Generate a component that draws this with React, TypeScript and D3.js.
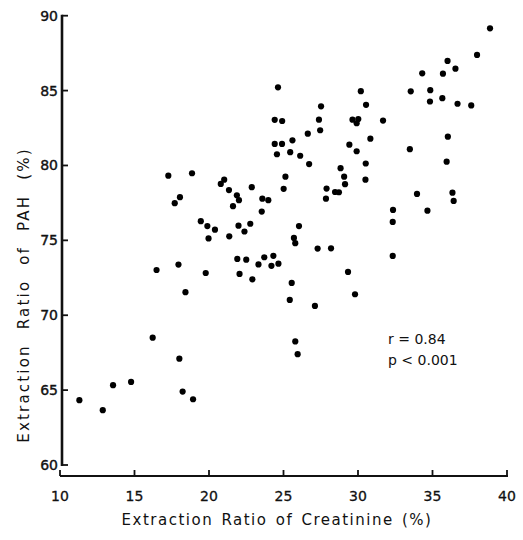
import React from "react";
import * as d3 from "d3";

const creatinine: number[] = [
  38.86, 37.99, 36.01, 36.54, 34.31, 35.70, 34.85, 33.54, 30.19, 24.63,
  35.66, 34.83, 36.68, 37.60, 30.54, 27.52, 24.41, 24.91, 27.38, 29.63,
  30.02, 29.91, 31.68, 27.46, 26.63, 36.03, 30.83, 25.60, 24.41, 24.90,
  29.42, 33.48, 24.56, 25.45, 26.12, 29.91, 26.72, 30.52, 35.95, 28.83,
  17.27, 18.86, 25.13, 29.07, 30.50, 21.02, 20.79, 29.13, 22.87, 27.89,
  25.01, 21.34, 28.46, 28.72, 21.87, 33.96, 36.34, 36.42, 18.05, 17.70,
  22.01, 23.58, 23.98, 27.85, 21.61, 23.54, 32.35, 34.66, 32.33, 19.45,
  19.89, 20.40, 19.97, 21.98, 22.77, 22.38, 21.36, 26.04, 25.70, 25.79,
  27.29, 28.19, 32.33, 16.48, 17.95, 19.78, 21.90, 22.50, 22.05, 22.91,
  23.32, 23.71, 24.32, 24.19, 24.66, 18.42, 25.55, 25.42, 27.11, 29.33,
  29.80, 16.22, 25.79, 25.95, 18.01, 18.23, 18.93, 11.30, 12.87, 13.56,
  14.77,
];

const pah: number[] = [
  89.16, 87.38, 86.98, 86.46, 86.15, 86.13, 85.03, 84.95, 84.96, 85.22,
  84.49, 84.27, 84.12, 84.01, 84.05, 83.95, 83.05, 82.97, 83.06, 83.06,
  83.10, 82.82, 83.00, 82.35, 82.12, 81.92, 81.79, 81.68, 81.44, 81.44,
  81.39, 81.09, 80.75, 80.89, 80.65, 80.95, 80.09, 80.13, 80.25, 79.82,
  79.32, 79.48, 79.25, 79.25, 79.05, 79.05, 78.77, 78.75, 78.55, 78.46,
  78.44, 78.36, 78.23, 78.21, 78.01, 78.10, 78.18, 77.63, 77.88, 77.48,
  77.68, 77.78, 77.68, 77.78, 77.28, 76.92, 77.03, 76.98, 76.23, 76.28,
  75.95, 75.71, 75.13, 75.98, 76.11, 75.59, 75.27, 75.95, 75.16, 74.81,
  74.45, 74.47, 73.96, 73.02, 73.38, 72.82, 73.76, 73.71, 72.76, 72.40,
  73.39, 73.87, 73.97, 73.30, 73.44, 71.54, 72.16, 71.02, 70.62, 72.89,
  71.40, 68.50, 68.25, 67.40, 67.10, 64.90, 64.39, 64.33, 63.66, 65.33,
  65.55,
];

const xTicks: number[] = [10, 15, 20, 25, 30, 35, 40];
const yTicks: number[] = [60, 65, 70, 75, 80, 85, 90];
const xLabel = "Extraction Ratio of Creatinine (%)";
const yLabel = "Extraction Ratio of PAH (%)";
const statLines: string[] = ["r = 0.84", "p < 0.001"];

export default function App() {
  const W = 523;
  const H = 540;
  const x = d3.scaleLinear().domain([10, 40]).range([60, 507]);
  const y = d3.scaleLinear().domain([60, 90]).range([465, 15.7]);
  const axisY = 476;
  const axisX = 62;
  const font = "'DejaVu Sans', sans-serif";
  const points = creatinine.map((c, i) => ({ c, p: pah[i] }));

  return (
    <svg
      width={W}
      height={H}
      style={{ position: "absolute", left: 0, top: 0, background: "#fff" }}
      fontFamily={font}
    >
      <rect x={0} y={0} width={W} height={H} fill="#fff" />
      {/* y axis */}
      <line x1={axisX} x2={axisX} y1={y(90) - 1} y2={y(60) + 1} stroke="#111" strokeWidth={2.6} />
      {yTicks.map((t) => (
        <g key={"y" + t}>
          <line x1={axisX} x2={axisX + 6} y1={y(t)} y2={y(t)} stroke="#111" strokeWidth={1.8} />
          <text
            x={axisX - 4}
            y={y(t) + 5}
            textAnchor="end"
            fontSize={14}
            fill="#111"
            stroke="#111"
            strokeWidth={0.4}
          >
            {t}
          </text>
        </g>
      ))}
      {/* x axis */}
      <line x1={x(10)} x2={x(40) + 1} y1={axisY} y2={axisY} stroke="#111" strokeWidth={2} />
      {xTicks.map((t) => (
        <g key={"x" + t}>
          <line x1={x(t)} x2={x(t)} y1={axisY} y2={axisY - 6} stroke="#111" strokeWidth={1.8} />
          <text
            x={x(t)}
            y={axisY + 25}
            textAnchor="middle"
            fontSize={14}
            fill="#111"
            stroke="#111"
            strokeWidth={0.3}
          >
            {t}
          </text>
        </g>
      ))}
      <text
        x={277}
        y={525}
        textAnchor="middle"
        fontSize={15}
        letterSpacing={1.5}
        wordSpacing={2}
        fill="#111"
      >
        {xLabel}
      </text>
      <text
        transform={`translate(29,${295}) rotate(-90)`}
        textAnchor="middle"
        fontSize={15}
        letterSpacing={2.2}
        wordSpacing={8}
        fill="#111"
      >
        {yLabel}
      </text>
      {points.map((d, i) => (
        <circle key={i} cx={x(d.c)} cy={y(d.p)} r={3.1} fill="#000" />
      ))}
      {statLines.map((s, i) => (
        <text key={s} x={388} y={344 + i * 21} fontSize={14} fill="#111">
          {s}
        </text>
      ))}
    </svg>
  );
}
